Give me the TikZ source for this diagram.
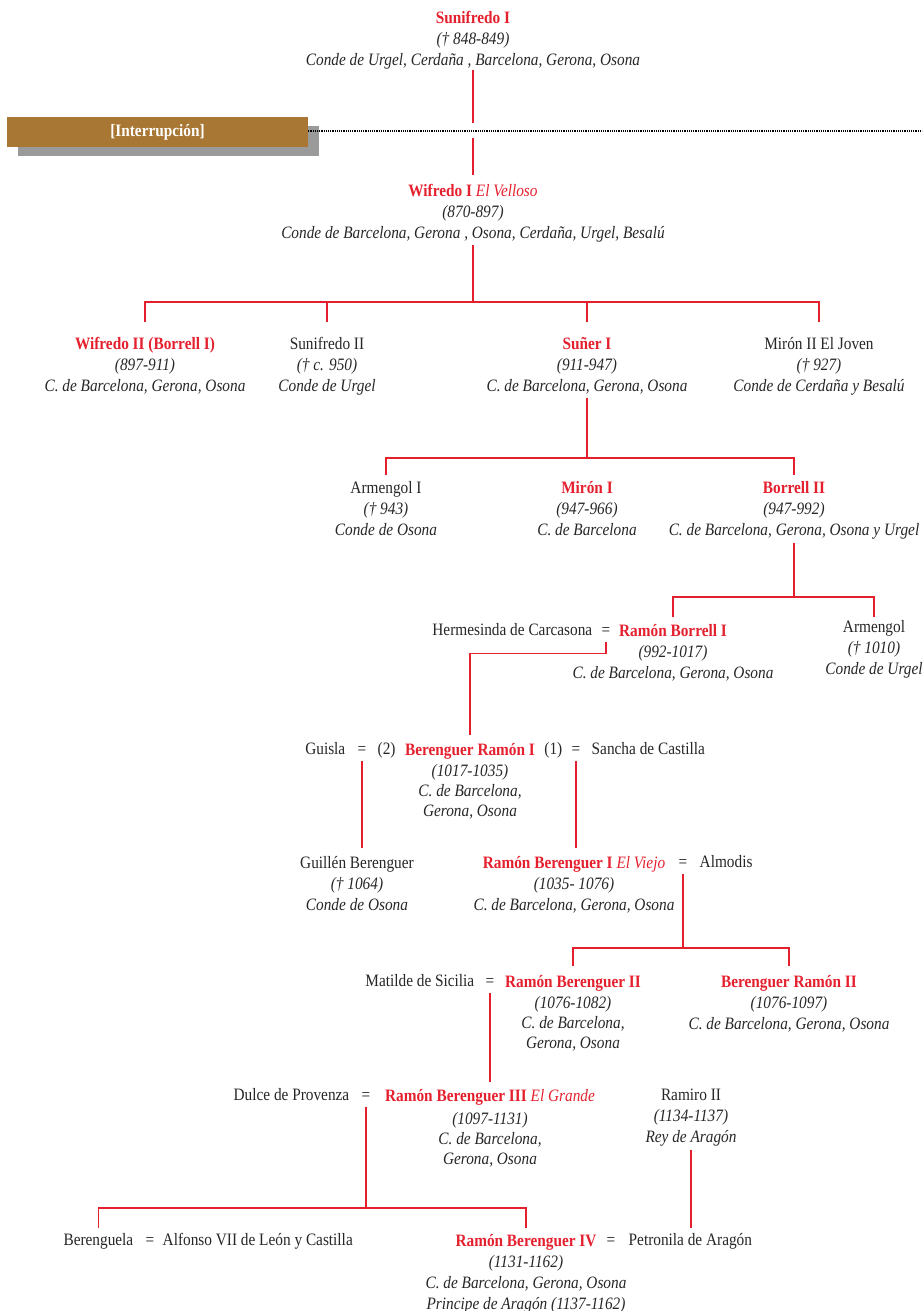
\documentclass[tikz,border=0pt]{standalone}
\usepackage{fontspec}
\setmainfont{Liberation Serif}[FakeStretch=0.88]
\usepackage{tikz}
\usetikzlibrary{positioning,shadows}
\definecolor{nobred}{HTML}{E5202E}
\definecolor{inkgray}{HTML}{262626}
\definecolor{bandbrown}{HTML}{A87734}
\definecolor{bandshadow}{HTML}{9A9A9A}
\tikzstyle{kin edge}=[draw=nobred,line width=1.3pt]
\tikzstyle{gap edge}=[draw=black,line width=2pt,dash pattern=on 1.1pt off 1.1pt]
\tikzstyle{person}=[anchor=north,yshift=10.7pt,align=center,inner sep=0pt,
  execute at begin node=\strut,execute at end node=\strut]
\tikzstyle{single}=[anchor=base,inner sep=0pt,text height=14.7pt,text depth=6.3pt]
\newcommand{\kinnode}[3][]{
  \node [person, #1] (#2) {#3}
}
\newcommand{\plainnode}[3][]{
  \node [single, #1] (#2) {#3}
}
\newcommand{\nm}[1]{\textcolor{nobred}{\bfseries #1}}
\newcommand{\epi}[1]{{\mdseries\itshape #1}}
\newcommand{\yr}[1]{\textit{#1}}

\begin{document}
\begin{tikzpicture}[x=1pt,y=-1pt,every node/.style={font=\fontsize{17.4}{21}\selectfont,text=inkgray}]
\useasboundingbox (0,0) rectangle (922,1311);
        \kinnode[at={(473,22)}]{suni}{\nm{Sunifredo I}\\\yr{(† 848-849)}\\\yr{Conde de Urgel, Cerdaña , Barcelona, Gerona, Osona}};
        \node[fill=bandbrown,text=white,font=\fontsize{17.4}{21}\selectfont\bfseries,minimum width=301pt,minimum height=30pt,inner sep=0pt,
          drop shadow={shadow xshift=11pt,shadow yshift=-9pt,fill=bandshadow,opacity=1}] (intr) at (157.5,132) {[Interrupción]};
        \coordinate (rim) at (922,131);
        \coordinate (gapT) at (473,123);
        \coordinate (gapB) at (473,138);
        \kinnode[at={(473,195)}]{wif}{\nm{Wifredo I \epi{El Velloso}}\\\yr{(870-897)}\\\yr{Conde de Barcelona, Gerona , Osona, Cerdaña, Urgel, Besalú}};

        % hijos de Wifredo I
        \kinnode[at={(145,348)}]{wif2}{\nm{Wifredo II (Borrell I)}\\\yr{(897-911)}\\\yr{C. de Barcelona, Gerona, Osona}};
        \kinnode[at={(327,348)}]{suni2}{Sunifredo II\\\yr{(† c. 950)}\\\yr{Conde de Urgel}};
        \kinnode[at={(587,348)}]{suner}{\nm{Suñer I}\\\yr{(911-947)}\\\yr{C. de Barcelona, Gerona, Osona}};
        \kinnode[at={(819,348)}]{mir2}{Mirón II El Joven\\\yr{(† 927)}\\\yr{Conde de Cerdaña y Besalú}};
        \coordinate (wifbar) at (473,302);

        \kinnode[at={(386,492)}]{arm1}{Armengol I\\\yr{(† 943)}\\\yr{Conde de Osona}};
        \kinnode[at={(587,492)}]{mir1}{\nm{Mirón I}\\\yr{(947-966)}\\\yr{C. de Barcelona}};
        \kinnode[at={(794,492)}]{bor2}{\nm{Borrell II}\\\yr{(947-992)}\\\yr{C. de Barcelona, Gerona, Osona y Urgel}};
        \coordinate (sunbar) at (587,458);

        \kinnode[at={(673,635)}]{rb1}{\nm{Ramón Borrell I}\\\yr{(992-1017)}\\\yr{C. de Barcelona, Gerona, Osona}};
        \plainnode[at={(606,635)}]{eqH}{=};
        \plainnode[base left=9pt of eqH]{herm}{Hermesinda de Carcasona};
        \kinnode[at={(874,631)}]{armg}{Armengol\\\yr{(† 1010)}\\\yr{Conde de Urgel}};
        \coordinate (borbar) at (794,597);

        \kinnode[at={(470,754)}]{bra1}{\nm{Berenguer Ramón I}\\\yr{(1017-1035)}\\[-1pt]\yr{C. de Barcelona,}\\[-1pt]\yr{Gerona, Osona}};
        \plainnode[at={(362,754)}]{eqG}{=};
        \plainnode[base left=12pt of eqG]{guisla}{Guisla};
        \plainnode[base right=11pt of eqG]{two}{(2)};
        \plainnode[at={(576,754)}]{eqS}{=};
        \plainnode[base left=9pt of eqS]{one}{(1)};
        \plainnode[base right=11pt of eqS]{sancha}{Sancha de Castilla};

        \kinnode[at={(357,867)}]{guil}{Guillén Berenguer\\\yr{(† 1064)}\\\yr{Conde de Osona}};
        \kinnode[at={(574,867)}]{rbv}{\nm{Ramón Berenguer I \epi{El Viejo}}\\\yr{(1035- 1076)}\\\yr{C. de Barcelona, Gerona, Osona}};
        \plainnode[at={(683,867)}]{eqA}{=};
        \plainnode[base right=12pt of eqA]{almo}{Almodis};
        \coordinate (almbar) at (683,948);

        \kinnode[at={(573,986)}]{rb2}{\nm{Ramón Berenguer II}\\\yr{(1076-1082)}\\[-1pt]\yr{C. de Barcelona,}\\[-1pt]\yr{Gerona, Osona}};
        \plainnode[at={(490,986)}]{eqM}{=};
        \plainnode[base left=11pt of eqM]{mati}{Matilde de Sicilia};
        \kinnode[at={(789,986)}]{bra2}{\nm{Berenguer Ramón II}\\\yr{(1076-1097)}\\\yr{C. de Barcelona, Gerona, Osona}};

        \kinnode[at={(490,1100)}]{rb3}{\nm{Ramón Berenguer III \epi{El Grande}}\\[2pt]\yr{(1097-1131)}\\[-1pt]\yr{C. de Barcelona,}\\[-1pt]\yr{Gerona, Osona}};
        \plainnode[at={(366,1100)}]{eqD}{=};
        \plainnode[base left=12pt of eqD]{dulce}{Dulce de Provenza};
        \kinnode[at={(691,1099)}]{ram}{Ramiro II\\\yr{(1134-1137)}\\\yr{Rey de Aragón}};
        \coordinate (dulbar) at (366,1208);

        \plainnode[at={(150,1245)}]{eqB}{=};
        \plainnode[base left=12pt of eqB]{beg}{Berenguela};
        \plainnode[base right=8pt of eqB]{alf}{Alfonso VII de León y Castilla};
        \kinnode[at={(526,1245)}]{rb4}{\nm{Ramón Berenguer IV}\\\yr{(1131-1162)}\\\yr{C. de Barcelona, Gerona, Osona}\\\yr{Principe de Aragón (1137-1162)}};
        \plainnode[at={(611,1245)}]{eqP}{=};
        \plainnode[base right=13pt of eqP]{pet}{Petronila de Aragón};

                    \draw[gap edge] (intr.east |- rim) -- (rim);
                    \draw[kin edge] ([yshift=2pt]suni.south) -- (gapT);
                    \draw[kin edge] (gapB) -- ([yshift=9pt]wif.north);
                    \draw[kin edge] ([yshift=0pt]wif.south) -- (wifbar);
                    \draw[kin edge] ([yshift=15pt]wif2.north) |- (wifbar) -| ([yshift=15pt]mir2.north);
                    \draw[kin edge] ([yshift=15pt]suni2.north) -- (suni2.north |- wifbar);
                    \draw[kin edge] ([yshift=15pt]suner.north) -- (suner.north |- wifbar);

            \draw[kin edge] ([yshift=0pt]suner.south) -- (sunbar);
            \draw[kin edge] ([yshift=6pt]arm1.north) |- (sunbar) -| ([yshift=6pt]bor2.north);
            \draw[kin edge] ([yshift=-1pt]bor2.south) -- (borbar);
            \draw[kin edge] ([yshift=7pt]rb1.north) |- (borbar) -| ([yshift=3pt]armg.north);
            \draw[kin edge] (eqH.south) -- ++(0,12) -| ([yshift=8pt]bra1.north);
            \draw[kin edge] (eqG.south) -- ([yshift=8pt]eqG.south |- guil.north);
            \draw[kin edge] (eqS.south) -- ([yshift=8pt]eqS.south |- rbv.north);
            \draw[kin edge] (eqA.south) -- (almbar);
            \draw[kin edge] ([yshift=9pt]rb2.north) |- (almbar) -| ([yshift=9pt]bra2.north);
            \draw[kin edge] (eqM.south) -- ([yshift=7pt]eqM.south |- rb3.north);
            \draw[kin edge] (eqD.south) -- (dulbar);
            \draw[kin edge] ([yshift=2pt]beg.north) |- (dulbar) -| ([yshift=6pt]rb4.north);
            \draw[kin edge] ([yshift=-1pt]ram.south) -- ([yshift=2pt]ram.south |- pet.north);
\end{tikzpicture}
\end{document}
